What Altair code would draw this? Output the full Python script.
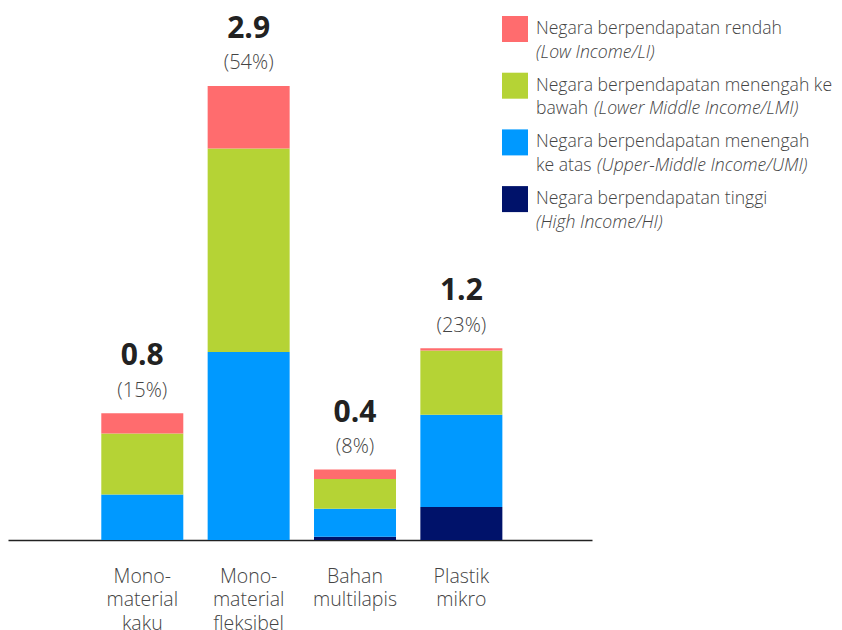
import altair as alt
import pandas as pd

# ---- data ----
categories = ["Mono-|material|kaku", "Mono-|material|fleksibel", "Bahan|multilapis", "Plastik|mikro"]
series = ["HI", "UMI", "LMI", "LI"]          # bottom -> top
hi_vals = [0.0, 0.0, 0.02, 0.21]
umi_vals = [0.29, 1.20, 0.18, 0.59]
lmi_vals = [0.39, 1.30, 0.19, 0.41]
li_vals = [0.13, 0.40, 0.06, 0.015]
value_labels = ["0.8", "2.9", "0.4", "1.2"]
pct_labels = ["(15%)", "(54%)", "(8%)", "(23%)"]
colors = ["#00126A", "#0099FF", "#B5D335", "#FF6C6E"]

legend_series = ["LI", "LMI", "UMI", "HI"]   # top -> bottom in legend
legend_line1 = ["Negara berpendapatan rendah",
                "Negara berpendapatan menengah ke",
                "Negara berpendapatan menengah",
                "Negara berpendapatan tinggi"]
legend_line2_regular = ["", "bawah", "ke atas", ""]
legend_line2_italic = ["(Low Income/LI)",
                       "(Lower Middle Income/LMI)",
                       "(Upper-Middle Income/UMI)",
                       "(High Income/HI)"]

# ---- layout ----
W, H = 584, 532
YMAX = 3.398
FONT = "Open Sans"
TXT = "#444444"
LEG_FS = 17.6

rows = []
for s_i, (s, vals) in enumerate(zip(series, [hi_vals, umi_vals, lmi_vals, li_vals])):
    for c, v in zip(categories, vals):
        rows.append({"cat": c, "series": s, "order": s_i, "value": v})
df = pd.DataFrame(rows)

tot = df.groupby("cat", sort=False)["value"].sum().reindex(categories).reset_index()
tot["vlab"] = value_labels
tot["plab"] = pct_labels

xscale = alt.Scale(domain=categories, paddingInner=0.229, paddingOuter=0.86, align=0.51)
yscale = alt.Scale(domain=[0, YMAX], nice=False, zero=True)
cscale = alt.Scale(domain=series, range=colors)

xaxis = alt.Axis(labelExpr="split(datum.label, '|')", labelAngle=0,
                 labelFontSize=19.5, labelFont=FONT, labelColor=TXT, labelFontWeight=300,
                 labelLineHeight=23.5, labelPadding=27, ticks=False,
                 domainColor="#222222", domainWidth=1.3, labelBaseline="top")
xenc = alt.X("cat:N", scale=xscale, sort=categories, title=None, axis=xaxis)
yenc = alt.Y("value:Q", scale=yscale, axis=None)

bars = alt.Chart(df).mark_bar(size=82).encode(
    x=xenc,
    y=alt.Y("value:Q", scale=yscale, stack="zero", axis=None),
    color=alt.Color("series:N", scale=cscale, legend=None),
    order=alt.Order("order:Q", sort="ascending"),
)

vtext = alt.Chart(tot).mark_text(font=FONT, fontSize=30, fontWeight="bold", color="#222222",
                                 baseline="middle", dy=-57).encode(
    x=xenc, y=yenc, text="vlab:N",
)
ptext = alt.Chart(tot).mark_text(font=FONT, fontSize=20, fontWeight=300, color=TXT,
                                 baseline="middle", dy=-22.5).encode(
    x=xenc, y=yenc, text="plab:N",
)
main = alt.layer(bars, vtext, ptext)

# ---- custom legend (plot-pixel coordinates through identity scales) ----
SW_X, TX_X, TOP, STEP, LH = 507, 528, 21, 56.7, 23.5
IT_DX = [0, 58, 61, 0]
leg_rows = []
for i, s in enumerate(legend_series):
    yc = TOP + i * STEP
    leg_rows.append({"series": s, "kind": "sq", "lx": SW_X, "ly": yc, "t": ""})
    leg_rows.append({"series": s, "kind": "reg", "lx": TX_X, "ly": yc, "t": legend_line1[i]})
    if legend_line2_regular[i]:
        leg_rows.append({"series": s, "kind": "reg", "lx": TX_X, "ly": yc + LH, "t": legend_line2_regular[i]})
    leg_rows.append({"series": s, "kind": "it", "lx": TX_X + IT_DX[i], "ly": yc + LH, "t": legend_line2_italic[i]})
ldf = pd.DataFrame(leg_rows)

lx = alt.X("lx:Q", scale=alt.Scale(domain=[0, W], nice=False, zero=False), axis=None)
ly = alt.Y("ly:Q", scale=alt.Scale(domain=[H, 0], nice=False, zero=False), axis=None)

lbase = alt.Chart(ldf)
lsq = lbase.transform_filter("datum.kind == 'sq'").mark_square(size=676, opacity=1).encode(
    x=lx, y=ly, color=alt.Color("series:N", scale=cscale, legend=None))
lreg = lbase.transform_filter("datum.kind == 'reg'").mark_text(
    font=FONT, fontSize=LEG_FS, fontWeight=300, color=TXT, align="left", baseline="middle").encode(
    x=lx, y=ly, text="t:N")
lit = lbase.transform_filter("datum.kind == 'it'").mark_text(
    font=FONT, fontSize=LEG_FS, fontWeight=300, color=TXT, align="left", baseline="middle",
    fontStyle="italic").encode(x=lx, y=ly, text="t:N")
legend = alt.layer(lsq, lreg, lit)

chart = alt.layer(main, legend).resolve_scale(x="independent", y="independent").properties(
    width=W, height=H, padding={"left": 0, "top": 0, "right": 0, "bottom": 20}
).configure_view(stroke=None)

chart.save("out.html", embed_options={"renderer": "svg", "actions": False})
